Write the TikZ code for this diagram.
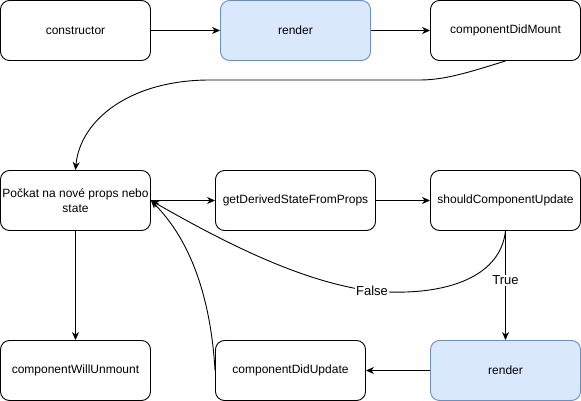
\documentclass[tikz,border=0pt]{standalone}
\usepackage{fontspec}
\setmainfont{Liberation Sans}
\usetikzlibrary{arrows.meta}
\definecolor{blueline}{HTML}{6C8EBF}
\definecolor{bluefill}{HTML}{DAE8FC}
\tikzset{
  box/.style={rectangle, rounded corners=9pt, draw, line width=0.9pt, minimum width=150pt, minimum height=60pt, inner sep=1pt, align=center, font=\fontsize{12}{15}\selectfont},
  bluebox/.style={box, draw=blueline, fill=bluefill},
  flow/.style={line width=0.9pt, -{Stealth[length=8pt,width=7pt,inset=2.5pt]}},
  edgelabel/.style={fill=white, inner sep=1pt, font=\fontsize{13}{15}\selectfont}
}
\begin{document}
\begin{tikzpicture}[x=1pt,y=-1pt]
\useasboundingbox (0,0) rectangle (581,401);
% top row
\node (ctor) at (75.5,30.5) [box] {constructor};
\node (render) at (295.5,30.5) [bluebox] {render};
\node (didmount) at (505.5,30.5) [box] {componentDidMount};
% middle row
\node (wait) at (75.5,200.5) [box] {Počkat na nové props nebo\\state};
\node (derived) at (295.5,200.5) [box, minimum width=160pt] {getDerivedStateFromProps};
\node (should) at (505.5,200.5) [box] {shouldComponentUpdate};
% bottom row
\node (unmount) at (75.5,370.5) [box] {componentWillUnmount};
\node (didupdate) at (290.5,370.5) [box] {componentDidUpdate};
\node (rerender) at (505.5,370.5) [bluebox] {render};
\draw [flow] (ctor) -- (render);
\draw [flow] (render) -- (didmount);
\draw [flow] (didmount.south) .. controls (470,72) and (445,80) .. (420,80) -- (210,80) .. controls (130,80) and (80,120) .. (wait.north);
\draw [flow] (wait) -- (derived);
\draw [flow] (derived) -- (should);
\draw [flow] (should) -- node [edgelabel, pos=0.45] {True} (rerender);
\draw [flow] (should.south) .. controls (500,280) and (440,297) .. (372,291) node [edgelabel] {False} .. controls (300,282) and (220,240) .. (wait.east);
\draw [flow] (didupdate.west) .. controls (212,320) and (200,250) .. (wait.east);
\draw [flow] (rerender) -- (didupdate);
\draw [flow] (wait) -- (unmount);
\end{tikzpicture}
\end{document}
